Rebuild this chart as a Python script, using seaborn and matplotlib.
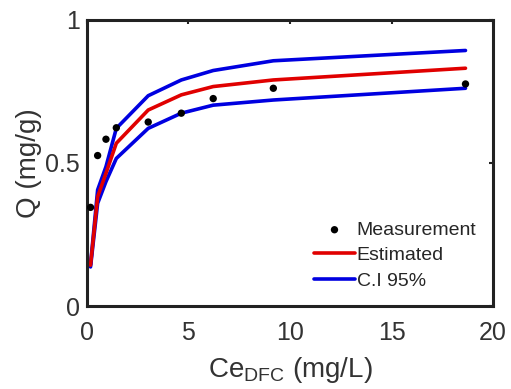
import numpy as np
import pandas as pd
import matplotlib
matplotlib.use("Agg")
import matplotlib.pyplot as plt
import seaborn as sns

# valeurs
ce = [0.18, 0.53, 0.94, 1.45, 3.02, 4.65, 6.22, 9.18, 18.64]
q_meas = [0.345, 0.526, 0.583, 0.623, 0.643, 0.674, 0.725, 0.761, 0.776]
q_est = [0.143, 0.382, 0.464, 0.569, 0.685, 0.738, 0.767, 0.790, 0.831]
q_upper = [0.145, 0.406, 0.487, 0.621, 0.735, 0.790, 0.823, 0.857, 0.893]
q_lower = [0.137, 0.359, 0.435, 0.516, 0.621, 0.674, 0.702, 0.720, 0.761]

df = pd.DataFrame({"ce": ce, "meas": q_meas, "est": q_est,
                   "up": q_upper, "low": q_lower})

sns.set_style("white")
plt.rcParams["font.family"] = ["Liberation Sans", "DejaVu Sans"]

fig, ax = plt.subplots(figsize=(5.11, 3.89), dpi=100)

sns.lineplot(data=df, x="ce", y="up", color="#0000e0", lw=2.6, ax=ax, label="C.I 95%")
sns.lineplot(data=df, x="ce", y="low", color="#0000e0", lw=2.6, ax=ax)
sns.lineplot(data=df, x="ce", y="est", color="#e00000", lw=2.6, ax=ax, label="Estimated")
sns.scatterplot(data=df, x="ce", y="meas", color="black", s=28, edgecolor="none",
                ax=ax, label="Measurement", zorder=5)

ax.set_xlim(0, 20)
ax.set_ylim(0, 1)
ax.set_xticks([0, 5, 10, 15, 20])
ax.set_yticks([0, 0.5, 1])
ax.set_yticklabels(["0", "0.5", "1"])
ax.tick_params(direction="in", length=3, width=1.5, labelsize=18,
               top=True, right=True, color="#222222", labelcolor="#333333")
ax.tick_params(axis="x", pad=11)
ax.tick_params(axis="y", pad=5)
for s in ax.spines.values():
    s.set_linewidth(2.2)
    s.set_color("#222222")

ax.set_xlabel(r"Ce$_{\mathregular{DFC}}$ (mg/L)", fontsize=20, color="#333333", labelpad=7)
ax.set_ylabel("Q (mg/g)", fontsize=20, color="#333333", labelpad=2)

h, l = ax.get_legend_handles_labels()
order = [l.index("Measurement"), l.index("Estimated"), l.index("C.I 95%")]
ax.legend([h[i] for i in order], [l[i] for i in order], loc="lower right",
          frameon=False, fontsize=14, handlelength=2.1, handletextpad=0.1,
          labelspacing=0.4, borderaxespad=0.45)

fig.subplots_adjust(left=0.170, right=0.965, top=0.949, bottom=0.213)
fig.savefig("out.png", dpi=100)
